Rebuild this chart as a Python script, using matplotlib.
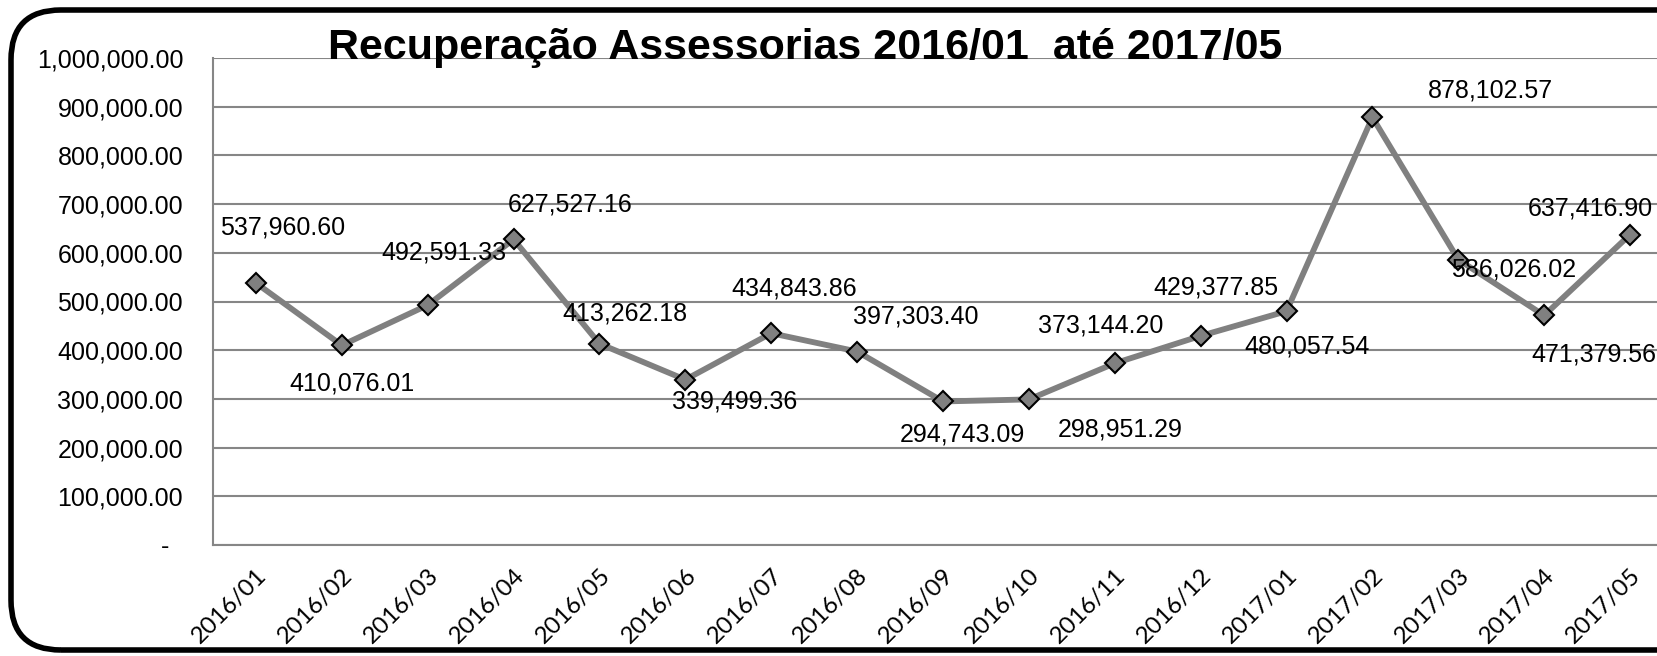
import matplotlib.pyplot as plt
from matplotlib.patches import FancyBboxPatch
from matplotlib.ticker import FuncFormatter, MultipleLocator

months = ['2016/01', '2016/02', '2016/03', '2016/04', '2016/05', '2016/06',
          '2016/07', '2016/08', '2016/09', '2016/10', '2016/11', '2016/12',
          '2017/01', '2017/02', '2017/03', '2017/04', '2017/05']
values = [537960.60, 410076.01, 492591.33, 627527.16, 413262.18, 339499.36,
          434843.86, 397303.40, 294743.09, 298951.29, 373144.20, 429377.85,
          480057.54, 878102.57, 586026.02, 471379.56, 637416.90]

# label offsets in pixels (Excel had them dragged around by hand)
label_offsets = [(27, -56), (10, 38), (16, -53), (57, -35), (25, -30),
                 (49, 22), (23, -45), (59, -35), (19, 33), (91, 30),
                 (-14, -38), (15, -48), (21, 35), (118, -27), (55, 10),
                 (50, 39), (-40, -26)]

title = 'Recuperação Assessorias 2016/01  até 2017/05'

plt.rcParams['font.family'] = ['Liberation Sans', 'DejaVu Sans']

fig = plt.figure(figsize=(16.58, 6.56), dpi=100)
ax = fig.add_axes([213 / 1658, 111 / 656, 1460 / 1658, 487 / 656])

x = list(range(len(months)))
ax.plot(x, values, color='#808080', lw=4.2, marker='D', ms=10.5,
        mfc='#808080', mec='black', mew=1.5, zorder=3, clip_on=False)

for xi, v, (dx, dy) in zip(x, values, label_offsets):
    ax.annotate(f'{v:,.2f}', (xi, v), xytext=(dx, -dy),
                textcoords='offset pixels', ha='center', va='center',
                fontsize=18, color='black', annotation_clip=False)

ax.set_xlim(-0.5, len(months) - 0.5)
ax.set_ylim(0, 1000000)
ax.yaxis.set_major_locator(MultipleLocator(100000))
ax.yaxis.set_major_formatter(FuncFormatter(
    lambda v, p: '-  ' if v == 0 else f'{v:,.2f}'))
ax.grid(axis='y', color='#868686', lw=1.5)
ax.set_axisbelow(True)
for s in ['top', 'right']:
    ax.spines[s].set_visible(False)
for s in ['left', 'bottom']:
    ax.spines[s].set_color('#868686')
    ax.spines[s].set_linewidth(1.5)
ax.tick_params(axis='y', length=0, pad=21.5, labelsize=18)
ax.tick_params(axis='x', length=0, pad=14)
ax.set_xticks(x)
ax.set_xticklabels(months, rotation=45, ha='right', rotation_mode='anchor',
                   fontsize=17.5, family=['Lato', 'DejaVu Sans'])

fig.text(805 / 1658, 1 - 59 / 656, title, ha='center', va='baseline',
         fontsize=31, fontweight='bold',
         family=['Liberation Sans Narrow', 'Liberation Sans'])

frame = FancyBboxPatch((11 / 1658, 6 / 656), 1700 / 1658, 640 / 656,
                       boxstyle='round,pad=0,rounding_size=0.03',
                       transform=fig.transFigure, fill=False,
                       ec='black', lw=4, mutation_aspect=1658 / 656)
fig.patches.append(frame)

fig.savefig('out.png', dpi=100)
